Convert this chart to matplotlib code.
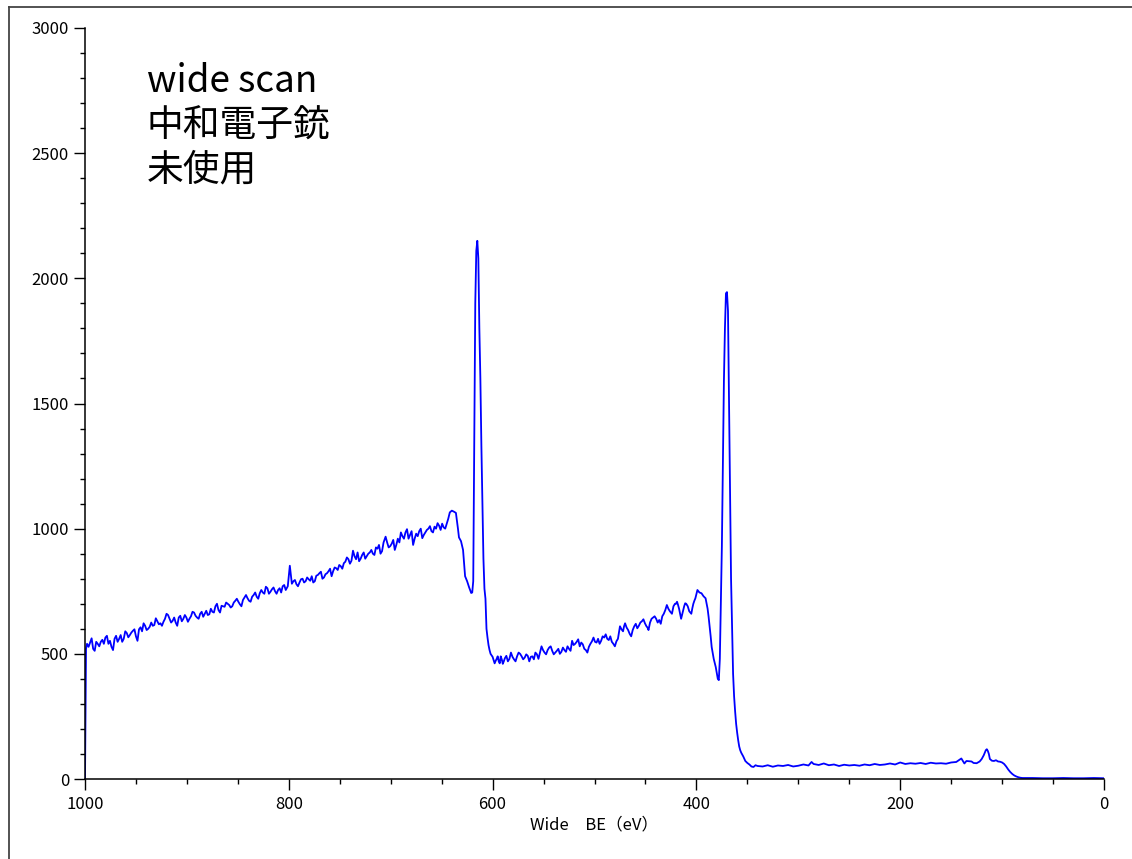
import matplotlib
matplotlib.use("Agg")
import matplotlib.pyplot as plt
from matplotlib.lines import Line2D
from matplotlib.ticker import MultipleLocator

plt.rcParams['font.family'] = ['Noto Sans CJK JP', 'DejaVu Sans']

# ---- data (binding energy eV, counts) ----
be_high = [1000, 999, 998, 995, 992, 989, 986, 983, 980, 977, 974, 971, 968, 965, 962, 959,
           956, 953, 950, 947, 944, 941, 938, 935, 932, 929, 926, 923, 920, 917, 914, 911,
           908, 905, 902, 899, 896, 893, 890, 887, 884, 881, 878, 875, 872, 869, 866, 863,
           860, 857, 854, 851, 848, 845, 842, 839, 836, 833, 830, 827, 824, 821, 818, 815,
           812, 809, 806, 803, 799, 797, 794, 791, 788, 785, 782, 779, 776, 773, 770, 767,
           764, 761, 758, 755, 752, 749, 746, 743, 740, 737, 734, 731, 728, 725, 722, 719,
           716, 713, 710, 707, 705, 702, 699, 696, 693, 690, 687, 684, 681, 678, 675, 672,
           669, 666, 663, 660, 657, 654, 651, 648, 645, 642, 640, 638, 636, 634, 633, 631,
           629, 627, 625, 623, 621, 620]
cnt_high = [0, 520, 540, 545, 520, 548, 530, 556, 565, 540, 528, 560, 548, 575, 560, 583,
            575, 592, 570, 598, 590, 612, 600, 625, 615, 630, 622, 628, 660, 640, 632, 625,
            645, 630, 655, 628, 650, 665, 645, 660, 648, 672, 658, 668, 690, 675, 692, 688,
            700, 685, 705, 720, 698, 715, 735, 712, 728, 745, 720, 755, 740, 762, 748, 765,
            740, 762, 770, 755, 852, 780, 795, 770, 798, 785, 805, 792, 785, 812, 822, 800,
            818, 830, 810, 845, 835, 850, 862, 885, 860, 912, 878, 870, 895, 880, 900, 915,
            895, 920, 900, 945, 968, 925, 940, 915, 960, 985, 960, 998, 975, 935, 980, 990,
            962, 985, 1000, 990, 1008, 1022, 995, 1005, 1020, 1065, 1072, 1068, 1063, 1000, 965, 950,
            915, 810, 790, 765, 743, 745]

# in-between readings of the noisy background (1000-640 eV)
be_high_b = [996.5, 993.5, 990.5, 987.5, 984.5, 981.5, 978.5, 975.5, 972.5, 969.5, 966.5, 963.5,
             960.5, 957.5, 954.5, 951.5, 948.5, 945.5, 942.5, 939.5, 936.5, 933.5, 930.5, 927.5,
             924.5, 921.5, 918.5, 915.5, 912.5, 909.5, 906.5, 903.5, 900.5, 897.5, 894.5, 891.5,
             888.5, 885.5, 882.5, 879.5, 876.5, 873.5, 870.5, 867.5, 864.5, 861.5, 858.5, 855.5,
             852.5, 849.5, 846.5, 843.5, 840.5, 837.5, 834.5, 831.5, 828.5, 825.5, 822.5, 819.5,
             816.5, 813.5, 810.5, 807.5, 804.5, 801, 795.5, 792.5, 789.5, 786.5, 783.5, 780.5,
             777.5, 774.5, 771.5, 768.5, 765.5, 762.5, 759.5, 756.5, 753.5, 750.5, 747.5, 744.5,
             741.5, 738.5, 735.5, 732.5, 729.5, 726.5, 723.5, 720.5, 717.5, 714.5, 711.5, 708.5,
             703.5, 700.5, 697.5, 694.5, 691.5, 688.5, 685.5, 682.5, 679.5, 676.5, 673.5, 670.5,
             667.5, 664.5, 661.5, 658.5, 655.5, 652.5, 649.5, 646.5, 643.5]
cnt_high_b = [528, 562, 512, 540, 548, 540, 572, 552, 515, 572, 560, 548,
              590, 566, 585, 598, 552, 606, 622, 595, 608, 612, 642, 618,
              612, 640, 655, 625, 645, 612, 652, 640, 645, 640, 668, 652,
              640, 668, 660, 655, 680, 665, 700, 665, 690, 705, 695, 690,
              712, 708, 690, 725, 722, 708, 735, 728, 742, 745, 768, 740,
              758, 750, 755, 745, 775, 770, 790, 778, 785, 800, 790, 798,
              810, 790, 815, 828, 805, 822, 840, 830, 842, 855, 840, 868,
              878, 872, 890, 905, 880, 905, 890, 905, 900, 925, 935, 910,
              945, 930, 955, 935, 945, 970, 985, 960, 990, 960, 970, 1000,
              975, 995, 1010, 985, 1000, 1012, 1020, 1000, 1040]

# Peak near 615 eV
be_peak1 = [619, 618, 617, 616, 615, 614, 613, 612, 611, 610, 609, 608, 607, 606, 605, 604, 603, 602]
cnt_peak1 = [790, 1350, 1900, 2110, 2150, 2080, 1800, 1600, 1330, 1100, 880, 760, 720, 600, 565, 535, 515, 500]

be_mid = [600, 598, 596, 594, 592, 590, 588, 585, 582, 579, 576, 573, 570, 567, 564, 561,
          558, 555, 552, 549, 546, 543, 540, 537, 534, 531, 528, 525, 522, 519, 516, 513,
          510, 507, 504, 501, 498, 495, 492, 489, 486, 483, 480, 477, 475, 472, 470, 467,
          464, 461, 458, 455, 452, 449, 447, 444, 441, 438, 435, 432, 429, 426, 424, 421,
          419, 417, 415, 412, 410, 407, 405, 403, 401, 399, 397, 395, 393, 391, 389, 388,
          386, 385, 383, 381, 379, 378]
cnt_mid = [488, 462, 480, 470, 490, 460, 482, 470, 505, 478, 490, 500, 478, 498, 470, 490,
           505, 480, 530, 505, 515, 530, 498, 512, 500, 525, 508, 520, 552, 540, 558, 545,
           520, 505, 540, 565, 545, 540, 570, 578, 555, 548, 530, 560, 610, 590, 622, 595,
           570, 610, 602, 625, 638, 610, 595, 640, 650, 625, 620, 660, 695, 670, 660, 700,
           708, 680, 640, 690, 700, 670, 660, 700, 722, 755, 745, 742, 730, 722, 680, 647,
           570, 527, 480, 447, 400, 395]

# in-between readings of the noisy background (600-400 eV)
be_mid_b = [599, 597, 595, 593, 591, 589, 586.5, 583.5, 580.5, 577.5, 574.5, 571.5,
            568.5, 565.5, 562.5, 559.5, 556.5, 553.5, 550.5, 547.5, 544.5, 541.5, 538.5, 535.5,
            532.5, 529.5, 526.5, 523.5, 520.5, 517.5, 514.5, 511.5, 508.5, 505.5, 502.5, 499.5,
            496.5, 493.5, 490.5, 487.5, 484.5, 481.5, 478.5, 476, 473.5, 471, 468.5, 465.5,
            462.5, 459.5, 456.5, 453.5, 450.5, 448, 445.5, 442.5, 439.5, 436.5, 433.5, 430.5,
            427.5, 425, 422.5, 420, 418, 416, 413.5, 411, 408.5, 406, 404, 402]
cnt_mid_b = [475, 472, 490, 462, 478, 470, 492, 480, 488, 470, 505, 490,
             485, 492, 488, 478, 498, 505, 515, 498, 525, 512, 505, 520,
             508, 515, 530, 512, 535, 548, 530, 538, 515, 528, 550, 548,
             560, 552, 565, 560, 570, 540, 550, 585, 598, 610, 605, 580,
             595, 620, 612, 630, 622, 605, 625, 645, 640, 635, 650, 675,
             680, 665, 690, 700, 695, 660, 665, 702, 690, 665, 682, 712]

# Peak near 370 eV
be_peak2 = [377, 376, 375, 374, 373, 372, 371, 370, 369, 368, 367, 366, 365, 364, 363, 362,
            361, 360, 359, 358, 357, 356, 354, 352, 350, 348, 346, 344, 342, 340]
cnt_peak2 = [480, 700, 930, 1250, 1590, 1800, 1940, 1945, 1870, 1500, 1150, 800, 600, 420, 330, 270,
             220, 185, 155, 130, 115, 105, 90, 72, 64, 58, 50, 48, 55, 52]

be_low = [335, 330, 325, 320, 315, 310, 305, 300, 295, 290, 287, 285, 280, 275, 270, 265,
          260, 255, 250, 245, 240, 235, 230, 225, 220, 215, 210, 205, 200, 195, 190, 185,
          180, 175, 170, 165, 160, 155, 150, 145, 140, 137, 135, 130, 128, 125, 122, 120,
          118, 116, 115, 114, 113, 112, 110, 108, 106, 104, 102, 100, 98, 96, 94, 92,
          90, 88, 86, 84, 82, 80, 70, 60, 50, 40, 30, 20, 10, 0]
cnt_low = [50, 55, 49, 54, 52, 56, 50, 53, 58, 54, 68, 60, 56, 62, 55, 58,
           52, 57, 54, 56, 53, 58, 55, 60, 56, 58, 62, 58, 66, 60, 63, 61,
           64, 60, 65, 62, 63, 61, 66, 68, 82, 62, 72, 70, 64, 63, 70, 80,
           95, 115, 119, 112, 100, 80, 73, 72, 75, 70, 69, 66, 60, 50, 38, 28,
           20, 14, 10, 7, 5, 4, 4, 3, 3, 4, 3, 3, 4, 3]

x_ticks = [1000, 800, 600, 400, 200, 0]
y_ticks = [0, 500, 1000, 1500, 2000, 2500, 3000]
annotation_lines = ["wide scan", "中和電子銃", "未使用"]
x_label = "Wide　BE（eV）"

# combine all readings, ordered from high to low binding energy
pairs = list(zip(be_high + be_high_b + be_peak1 + be_mid + be_mid_b + be_peak2 + be_low,
                 cnt_high + cnt_high_b + cnt_peak1 + cnt_mid + cnt_mid_b + cnt_peak2 + cnt_low))
pairs.sort(key=lambda p: -p[0])
energy = [p[0] for p in pairs]
counts = [p[1] for p in pairs]
# keep the vertical start at 1000 eV first
i0 = [k for k, p in enumerate(pairs) if p[0] == 1000 and p[1] == 0][0]
energy.insert(0, energy.pop(i0))
counts.insert(0, counts.pop(i0))

# ---- figure ----
W, H = 1132, 859
fig = plt.figure(figsize=(W / 100, H / 100), dpi=100)
ax = fig.add_axes([85 / W, (H - 779) / H, (1104 - 85) / W, (779 - 28) / H])

ax.plot(energy, counts, color='#0000ff', lw=1.3)

ax.set_xlim(1000, 0)
ax.set_ylim(0, 3000)
ax.set_xticks(x_ticks)
ax.set_yticks(y_ticks)
ax.xaxis.set_minor_locator(MultipleLocator(50))
ax.yaxis.set_minor_locator(MultipleLocator(100))

for s in ['top', 'right']:
    ax.spines[s].set_visible(False)
for s in ['left', 'bottom']:
    ax.spines[s].set_linewidth(1.1)
    ax.spines[s].set_color('black')

ax.tick_params(axis='both', which='major', direction='out', length=8, width=1.0,
               labelsize=12, pad=3.5, colors='black')
ax.tick_params(axis='both', which='minor', direction='out', length=3.5, width=1.0)
ax.tick_params(axis='x', which='major', pad=4)

ax.set_xlabel(x_label, fontsize=12, labelpad=3)

ys = [0.9148, 0.8555, 0.7963]
for line, yy in zip(annotation_lines, ys):
    ax.text(0.0608, yy, line, transform=ax.transAxes, fontsize=26.5,
            ha='left', va='baseline', color='black')

# outer frame (left and top edges)
fig.add_artist(Line2D([9 / W, 9 / W], [0, (H - 7) / H], transform=fig.transFigure,
                      color='#444444', lw=1.3))
fig.add_artist(Line2D([9 / W, 1], [(H - 7) / H, (H - 7) / H], transform=fig.transFigure,
                      color='#444444', lw=1.3))

fig.savefig("out.png", dpi=100)
